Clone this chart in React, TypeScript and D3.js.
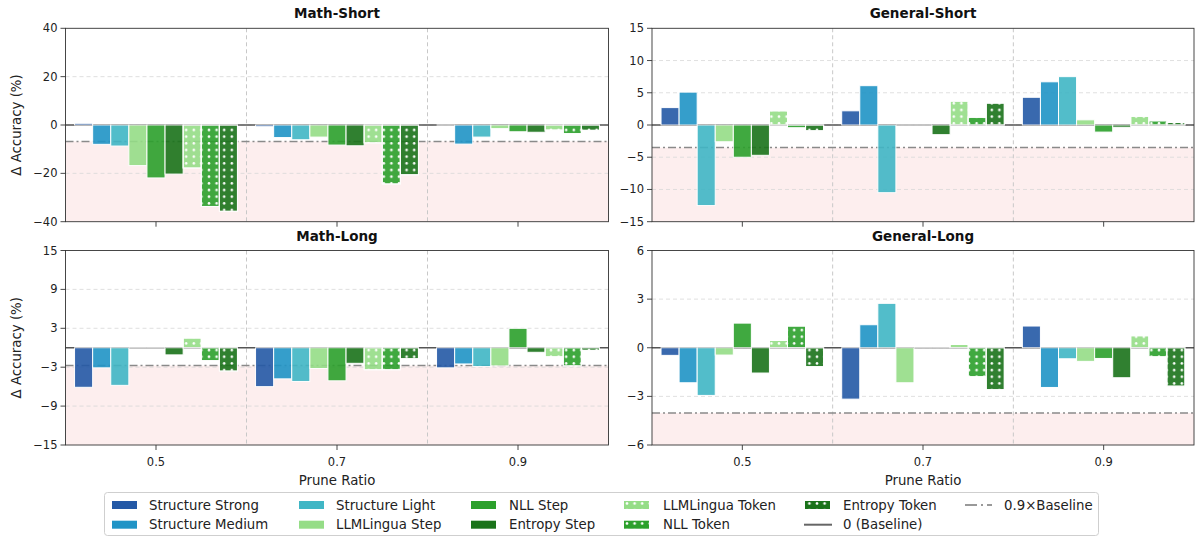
import { scaleLinear, format } from "d3";

// pruning ablation: four panels of grouped bars, delta accuracy vs. prune ratio

const METHODS = [
  "Structure Strong",
  "Structure Medium",
  "Structure Light",
  "LLMLingua Step",
  "NLL Step",
  "Entropy Step",
  "LLMLingua Token",
  "NLL Token",
  "Entropy Token",
];
const HATCHED = [false, false, false, false, false, false, true, true, true];
const COLORS = ["#2459a6", "#2094c6", "#40b6c5", "#95dd87", "#2ca02c", "#1a731a", "#95dd87", "#2ca02c", "#1a731a"];
const RATIOS = ["0.5", "0.7", "0.9"];

// one row per prune ratio, one value per method
const mathShort = [
  [0.7, -8.0, -8.7, -16.8, -21.9, -20.3, -17.8, -33.7, -35.7],
  [-0.7, -5.2, -6.1, -5.0, -8.3, -8.6, -7.4, -24.4, -20.6],
  [0.0, -7.9, -5.0, -1.5, -2.8, -3.0, -2.1, -3.6, -2.2],
];
const generalShort = [
  [2.7, 5.1, -12.5, -2.6, -5.0, -4.7, 2.2, -0.45, -0.9],
  [2.2, 6.1, -10.5, 0.0, 0.0, -1.5, 3.7, 1.2, 3.4],
  [4.3, 6.7, 7.5, 0.8, -1.1, -0.35, 1.35, 0.65, 0.4],
];
const mathLong = [
  [-6.1, -3.1, -5.8, 0.0, 0.0, -1.1, 1.5, -2.0, -3.6],
  [-6.0, -4.8, -5.2, -3.2, -5.1, -2.4, -3.4, -3.4, -1.7],
  [-3.1, -2.5, -2.9, -2.8, 3.0, -0.7, -1.4, -2.8, -0.4],
];
const generalLong = [
  [-0.47, -2.16, -2.94, -0.45, 1.52, -1.56, 0.45, 1.34, -1.17],
  [-3.17, 1.42, 2.74, -2.16, 0.0, 0.0, 0.2, -1.79, -2.59],
  [1.34, -2.45, -0.68, -0.84, -0.66, -1.85, 0.74, -0.56, -2.37],
];

// 0.9 x baseline, expressed as delta
const BASELINES = [-6.8, -3.5, -2.75, -4.03];
const Y_DOMAINS = [[-40, 40], [-15, 15], [-15, 15], [-6, 6]];
const Y_TICKS = [
  [-40, -20, 0, 20, 40],
  [-15, -10, -5, 0, 5, 10, 15],
  [-15, -9, -3, 3, 9, 15],
  [-6, -3, 0, 3, 6],
];
const TITLES = ["Math-Short", "General-Short", "Math-Long", "General-Long"];
const DATA = [mathShort, generalShort, mathLong, generalLong];

const FONT = "DejaVu Sans, sans-serif";
const COLS = [{ x0: 65.5, x1: 608.5 }, { x0: 652, x1: 1194 }];
const ROWS = [{ y0: 28.3, y1: 221.7 }, { y0: 250.5, y1: 445 }];
const BAR_W = 0.1;
const fmt = format("d");

const Panel = ({ idx }: { idx: number }) => {
  const col = COLS[idx % 2];
  const row = ROWS[Math.floor(idx / 2)];
  const isLeft = idx % 2 === 0;
  const isBottom = idx >= 2;

  const x = scaleLinear().domain([-0.5, 2.5]).range([col.x0, col.x1]);
  const y = scaleLinear().domain(Y_DOMAINS[idx]).range([row.y1, row.y0]);
  const data = DATA[idx];
  const base = BASELINES[idx];

  const bars = data.flatMap((group, g) =>
    group.map((v, m) => {
      const left = g + (m - 4) * BAR_W - BAR_W / 2;
      const bx = x(left);
      const bw = x(left + BAR_W) - bx;
      const top = y(Math.max(0, v));
      const h = Math.abs(y(v) - y(0));
      if (h < 0.5) {
        // zero-height bar: only its white edge shows over the zero line
        return <line key={`${g}-${m}`} x1={bx} x2={bx + bw} y1={y(0)} y2={y(0)} stroke="white" strokeWidth={1.3} opacity={0.85} />;
      }
      return (
        <g key={`${g}-${m}`} opacity={0.9}>
          <rect x={bx} y={top} width={bw} height={h} fill={COLORS[m]} stroke="white" strokeWidth={1} />
          {HATCHED[m] && (
            <rect x={bx} y={top} width={bw} height={h} fill="url(#dots)" stroke="white" strokeWidth={1} />
          )}
        </g>
      );
    })
  );

  const cx = (col.x0 + col.x1) / 2;
  const cy = (row.y0 + row.y1) / 2;

  return (
    <g>
      {/* shaded zone below 0.9 x baseline */}
      <rect x={col.x0} y={y(base)} width={col.x1 - col.x0} height={row.y1 - y(base)} fill="#fdeeee" />
      {Y_TICKS[idx]
        .filter((t) => t !== Y_DOMAINS[idx][0] && t !== Y_DOMAINS[idx][1])
        .map((t) => (
          <line key={t} x1={col.x0} x2={col.x1} y1={y(t)} y2={y(t)} stroke="#d8d8d8" strokeWidth={0.8} strokeDasharray="4,3" />
        ))}
      {[0.5, 1.5].map((b) => (
        <line key={b} x1={x(b)} x2={x(b)} y1={row.y0} y2={row.y1} stroke="#c8c8c8" strokeWidth={1} strokeDasharray="4,3" />
      ))}
      <line x1={col.x0} x2={col.x1} y1={y(0)} y2={y(0)} stroke="#555" strokeWidth={1.6} />
      <line x1={col.x0} x2={col.x1} y1={y(base)} y2={y(base)} stroke="#8a8a8a" strokeWidth={1.5} strokeDasharray="8,3,2,3" />
      {bars}
      <rect x={col.x0} y={row.y0} width={col.x1 - col.x0} height={row.y1 - row.y0} fill="none" stroke="#333" strokeWidth={0.9} />
      {/* y axis */}
      {Y_TICKS[idx].map((t) => (
        <g key={t}>
          <line x1={col.x0 - 5} x2={col.x0} y1={y(t)} y2={y(t)} stroke="#333" strokeWidth={0.9} />
          <text x={col.x0 - 8} y={y(t)} dy="0.35em" textAnchor="end" fontSize={11.5} fill="#222">
            {fmt(t)}
          </text>
        </g>
      ))}
      {/* x axis */}
      {RATIOS.map((r, g) => (
        <g key={r}>
          <line x1={x(g)} x2={x(g)} y1={row.y1} y2={row.y1 + 5} stroke="#333" strokeWidth={0.9} />
          {isBottom && (
            <text x={x(g)} y={row.y1 + 21} textAnchor="middle" fontSize={11.5} fill="#222">
              {r}
            </text>
          )}
        </g>
      ))}
      <text x={cx} y={row.y0 - 10} textAnchor="middle" fontSize={13.5} fontWeight="bold" fill="#111">
        {TITLES[idx]}
      </text>
      {isBottom && (
        <text x={cx} y={row.y1 + 40} textAnchor="middle" fontSize={13.3} fill="#222">
          Prune Ratio
        </text>
      )}
      {isLeft && (
        <text transform={`translate(16,${cy}) rotate(-90)`} dy="0.35em" textAnchor="middle" fontSize={13.3} fill="#222">
          Δ Accuracy (%)
        </text>
      )}
    </g>
  );
};

const LEGEND_COLS = [
  { px: 112, tx: 149 },
  { px: 299, tx: 336 },
  { px: 471, tx: 509 },
  { px: 624, tx: 663 },
  { px: 805, tx: 843 },
  { px: 965, tx: 1004 },
];
const LEGEND_ROWS = [505, 524.7];

const Legend = () => {
  const items: { label: string; kind: "bar" | "zero" | "base"; m?: number }[] = [
    ...METHODS.map((label, m) => ({ label, kind: "bar" as const, m })),
    { label: "0.9×Baseline", kind: "base" },
    { label: "0 (Baseline)", kind: "zero" },
  ];
  // matplotlib fills columns first: 2 rows
  const placed = [
    items[0], items[1], items[2], items[3], items[4], items[5],
    items[6], items[7], items[8], items[10], items[9],
  ];
  return (
    <g>
      <rect x={104.5} y={492.5} width={994} height={43} rx={3} fill="white" stroke="#cfcfcf" strokeWidth={1} />
      {placed.map((it, i) => {
        const c = LEGEND_COLS[Math.floor(i / 2)];
        const cy = LEGEND_ROWS[i % 2];
        return (
          <g key={it.label}>
            {it.kind === "bar" && (
              <>
                <rect x={c.px} y={cy - 4} width={25} height={8} fill={COLORS[it.m!]} />
                {HATCHED[it.m!] && <rect x={c.px} y={cy - 4} width={25} height={8} fill="url(#dots)" />}
              </>
            )}
            {it.kind === "zero" && <line x1={c.px - 1} x2={c.px + 27} y1={cy} y2={cy} stroke="#666" strokeWidth={2} />}
            {it.kind === "base" && (
              <line x1={c.px} x2={c.px + 27} y1={cy} y2={cy} stroke="#999" strokeWidth={2} strokeDasharray="12,4,2,4" />
            )}
            <text x={c.tx} y={cy} dy="0.35em" fontSize={13.3} fill="#222">
              {it.label}
            </text>
          </g>
        );
      })}
    </g>
  );
};

export default function App() {
  return (
    <svg width={1196} height={536} style={{ position: "absolute", left: 0, top: 0, fontFamily: FONT }}>
      <defs>
        <pattern id="dots" patternUnits="userSpaceOnUse" width={7.6} height={6.67}>
          <circle cx={3.8} cy={3.3} r={1.3} fill="white" />
        </pattern>
      </defs>
      <rect width={1196} height={536} fill="white" />
      {[0, 1, 2, 3].map((i) => (
        <Panel key={i} idx={i} />
      ))}
      <Legend />
    </svg>
  );
}
